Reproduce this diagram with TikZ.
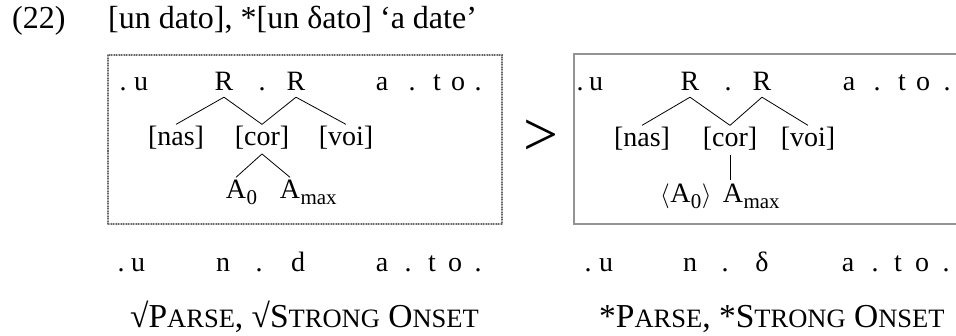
\documentclass[tikz,border=0pt]{standalone}
\usepackage{fontspec}
\setmainfont{Liberation Serif}
\tikzset{
  txt/.style={inner sep=0pt, anchor=base, font=\fontsize{28}{28}\selectfont},
  ttl/.style={inner sep=0pt, anchor=base west, font=\fontsize{32}{32}\selectfont},
  subs/.style={inner sep=0pt, anchor=base west, font=\fontsize{21}{21}\selectfont},
  con/.style={inner sep=0pt, anchor=base west, font=\fontsize{33.5}{33.5}\selectfont},
  edge/.style={line width=0.8pt},
  leftbox/.style={draw=gray!55, line width=2.5pt, inner sep=0pt,
    postaction={draw=black!60, line width=2.5pt, dash pattern=on 1pt off 1.5pt}},
  rightbox/.style={draw=gray!85, line width=2.5pt, inner sep=0pt},
}
\newcommand{\fsc}[1]{{\fontsize{26.5}{26.5}\selectfont #1}}
\begin{document}
\begin{tikzpicture}[x=1pt,y=-1pt]
\clip (0,0) rectangle (956,336);
% title
\node[ttl] (num) at (12,29) {(22)};
\node[ttl] (title) at (108,29) {[un dato], *[un δato] ‘a date’};
% boxes
\node[leftbox, minimum width=394pt, minimum height=169pt] (lbox) at (305,139.5) {};
\node[rightbox, minimum width=392pt, minimum height=170pt] (rbox) at (770,139) {};
\node[inner sep=0pt, font=\fontsize{62}{62}\selectfont] (gt) at (541,138) {>};
% left tree
\foreach \ch/\x/\n in {./123/La, u/141/Lb, ./262/Lc, a/382/Ld, ./412/Le, t/437/Lf, o/458/Lg, ./478/Lh}
  \node[txt] (\n) at (\x,91) {\ch};
\node[txt] (R1) at (224,91) {R};
\node[txt] (R2) at (296,91) {R};
\node[txt] (nas) at (176,146) {[nas]};
\node[txt] (cor) at (262,146) {[cor]};
\node[txt] (voi) at (346,146) {[voi]};
\node[txt] (a0) at (236,199) {A};
\node[subs] (s0) at ([yshift=-6pt]a0.base east) {0};
\node[txt] (am) at (290,199) {A};
\node[subs] (sm) at ([yshift=-6pt]am.base east) {max};
\draw[edge] ([yshift=-6pt]R1.south) -- ([yshift=2pt]nas.north);
\draw[edge] ([yshift=-6pt]R1.south) -- ([yshift=2pt]cor.north);
\draw[edge] ([yshift=-6pt]R2.south) -- ([yshift=2pt]cor.north);
\draw[edge] ([yshift=-6pt]R2.south) -- ([yshift=2pt]voi.north);
\draw[edge] ([yshift=-4pt]cor.south) -- ([yshift=3pt]a0.north);
\draw[edge] ([yshift=-4pt]cor.south) -- ([yshift=3pt]am.north);
% right tree
\foreach \ch/\x/\n in {./580/Ra, u/596/Rb, ./728/Rc, a/849/Rd, ./877/Re, t/902/Rf, o/923/Rg, ./947/Rh}
  \node[txt] (\n) at (\x,91) {\ch};
\node[txt] (R3) at (690,91) {R};
\node[txt] (R4) at (762,91) {R};
\node[txt] (nas2) at (642,147) {[nas]};
\node[txt] (cor2) at (730,147) {[cor]};
\node[txt] (voi2) at (808,147) {[voi]};
\node[txt, anchor=base west] (lg) at (660,203) {$\langle$};
\node[txt, anchor=base west] (b0) at (lg.base east) {A};
\node[subs] (t0) at ([yshift=-6pt]b0.base east) {0};
\node[txt, anchor=base west] (rg) at ([yshift=6pt]t0.base east) {$\rangle$};
\node[txt] (bm) at (733,203) {A};
\node[subs] (tm) at ([yshift=-6pt]bm.base east) {max};
\draw[edge] ([yshift=-6pt]R3.south) -- ([yshift=2pt]nas2.north);
\draw[edge] ([yshift=-6pt]R3.south) -- ([yshift=2pt]cor2.north);
\draw[edge] ([yshift=-6pt]R4.south) -- ([yshift=2pt]cor2.north);
\draw[edge] ([yshift=-6pt]R4.south) -- ([yshift=2pt]voi2.north);
\draw[edge] ([yshift=-4pt]cor2.south) -- ([yshift=4pt]cor2.south |- bm.north);
% bottom rows
\foreach \ch/\x/\n in {./121/Ba, u/138/Bb, n/223/Bc, ./259/Bd, d/298/Be, a/382/Bf, ./408/Bg, t/432/Bh, o/455/Bi, ./478/Bj}
  \node[txt] (\n) at (\x,272) {\ch};
\foreach \ch/\x/\n in {./588/Ca, u/606/Cb, n/690/Cc, ./725/Cd, δ/762/Ce, a/848/Cf, ./875/Cg, t/898/Ch, o/922/Ci, ./946/Cj}
  \node[txt] (\n) at (\x,272) {\ch};
\node[con] (c1) at (130,328) {√P\fsc{ARSE}, √S\fsc{TRONG} O\fsc{NSET}};
\node[con] (c2) at (599,328) {*P\fsc{ARSE}, *S\fsc{TRONG} O\fsc{NSET}};
\end{tikzpicture}
\end{document}
